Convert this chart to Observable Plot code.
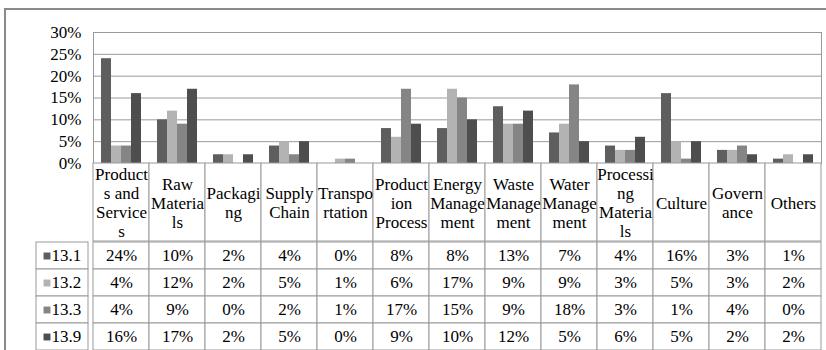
<!DOCTYPE html>
<html>
<head>
<meta charset="utf-8">
<script src="https://cdn.jsdelivr.net/npm/d3@7"></script>
<script src="https://cdn.jsdelivr.net/npm/@observablehq/plot@0.6"></script>
<style>
  html, body { margin: 0; padding: 0; background: #fff; }
  #chart { position: relative; width: 826px; height: 350px; overflow: hidden; background: #fff; }
  #chart .row { display: flex; }
  #chart .outline {
    position: absolute; left: 4px; top: 8px; right: -10px; bottom: -10px;
    border-left: 2px solid #8a8a8a; border-top: 2px solid #8a8a8a; pointer-events: none;
  }
</style>
</head>
<body>
<div id="chart">
  <div id="bars"></div>
  <div id="head"></div>
  <div class="row"><div id="keys"></div><div id="table"></div></div>
  <div class="outline"></div>
</div>
<script>
// Topic categories (columns of the data table)
const categories = ["Products and Services", "Raw Materials", "Packaging", "Supply Chain",
  "Transportation", "Production Process", "Energy Management", "Waste Management",
  "Water Management", "Processing Materials", "Culture", "Governance", "Others"];

// Header text as it wraps inside the narrow table columns
const headerLabels = ["Product\ns and\nService\ns", "Raw\nMateria\nls", "Packagi\nng", "Supply\nChain",
  "Transpo\nrtation", "Product\nion\nProcess", "Energy\nManage\nment", "Waste\nManage\nment",
  "Water\nManage\nment", "Processi\nng\nMateria\nls", "Culture", "Govern\nance", "Others"];

// Series (rows of the data table)
const series = ["13.1", "13.2", "13.3", "13.9"];

// Shares in percent, one array per series, in category order
const s131 = [24, 10, 2, 4, 0, 8, 8, 13, 7, 4, 16, 3, 1];
const s132 = [4, 12, 2, 5, 1, 6, 17, 9, 9, 3, 5, 3, 2];
const s133 = [4, 9, 0, 2, 1, 17, 15, 9, 18, 3, 1, 4, 0];
const s139 = [16, 17, 2, 5, 0, 9, 10, 12, 5, 6, 5, 2, 2];

// Value axis ticks
const yTicks = [0, 5, 10, 15, 20, 25, 30];

const seriesValues = [s131, s132, s133, s139];
const rows = series.flatMap((s, j) =>
  categories.map((c, i) => ({category: c, series: s, value: seriesValues[j][i]})));
const headerOf = new Map(categories.map((c, i) => [c, headerLabels[i]]));
const pct = (v) => `${v}%`;

const W = 826, LEFT = 88;
const lineColor = "#9a9a9a";
const colors = ["#5e5e5e", "#b3b3b3", "#858585", "#4e4e4e"];
const serif = "'Liberation Serif', serif";
const style = "font-family: 'Liberation Serif', serif; font-size: 17px; background: transparent; overflow: visible;";
const textStyle = {fontFamily: serif, fontSize: 17};
const color = {domain: series, range: colors};

// Clustered column chart
const bars = Plot.plot({
  width: W, height: 163,
  marginLeft: LEFT, marginRight: 0, marginTop: 32, marginBottom: 0,
  style,
  fx: {domain: categories, padding: 0, axis: null, label: null},
  x: {domain: series, paddingInner: 0, paddingOuter: 0.77, axis: null},
  y: {domain: [0, 30]},
  color,
  marks: [
    Plot.gridY(yTicks, {stroke: lineColor, strokeOpacity: 1}),
    Plot.frame({facet: "super", stroke: lineColor}),
    Plot.barY(rows, {fx: "category", x: "series", y: "value", fill: "series"}),
    Plot.axisY(yTicks, {tickSize: 0, tickPadding: 12, tickFormat: pct, label: null, ...textStyle})
  ]
});
document.getElementById("bars").append(bars);

// Table header row with the category names
const head = Plot.plot({
  width: W, height: 78,
  marginLeft: LEFT, marginRight: 0, marginTop: 0, marginBottom: 0,
  style,
  x: {domain: categories, padding: 0, axis: null},
  marks: [
    Plot.cell(categories, {x: (d) => d, fill: "white", stroke: lineColor}),
    Plot.text(categories, {x: (d) => d, text: (d) => headerOf.get(d), lineHeight: 19 / 17, ...textStyle})
  ]
});
document.getElementById("head").append(head);

// Key column: series names with their colour swatches
const keys = Plot.plot({
  width: LEFT, height: 109,
  marginLeft: 36, marginRight: 0, marginTop: 0, marginBottom: 0,
  style,
  y: {domain: series, padding: 0, axis: null},
  color,
  marks: [
    Plot.cell(series, {y: (d) => d, fill: "white", stroke: lineColor}),
    Plot.dot(series, {y: (d) => d, frameAnchor: "left", dx: 10.5, symbol: "square", r: 3.9, fill: (d) => d}),
    Plot.text(series, {y: (d) => d, text: (d) => d, frameAnchor: "left", textAnchor: "start", dx: 15, ...textStyle})
  ]
});
document.getElementById("keys").append(keys);

// Value cells
const table = Plot.plot({
  width: W - LEFT, height: 109,
  marginLeft: 0, marginRight: 0, marginTop: 0, marginBottom: 0,
  style,
  x: {domain: categories, padding: 0, axis: null},
  y: {domain: series, padding: 0, axis: null},
  marks: [
    Plot.cell(rows, {x: "category", y: "series", fill: "white", stroke: lineColor}),
    Plot.text(rows, {x: "category", y: "series", text: (d) => pct(d.value), ...textStyle})
  ]
});
document.getElementById("table").append(table);
</script>
</body>
</html>
